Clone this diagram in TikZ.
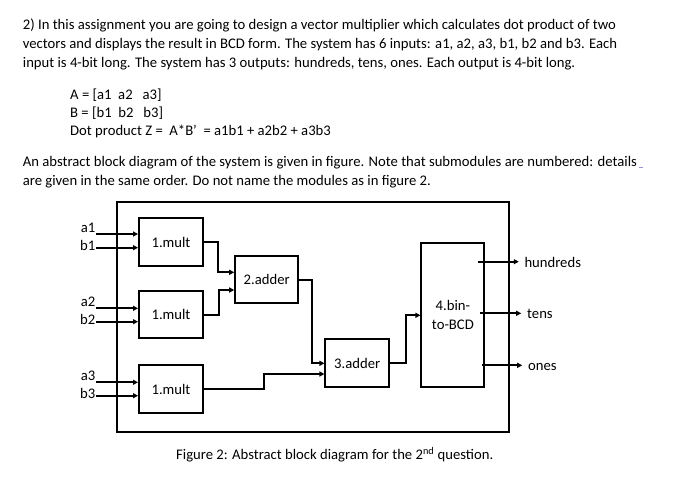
\documentclass[tikz,border=0pt]{standalone}
\usepackage{fontspec}
\setmainfont{Carlito}
\usetikzlibrary{arrows.meta}
\begin{document}
\begin{tikzpicture}[x=1pt,y=-1pt,
  every node/.style={font=\fontsize{14.67}{19}\selectfont, inner sep=0pt},
  txt/.style={anchor=base west},
  blk/.style={draw, line width=2pt, minimum width=63pt, minimum height=47.5pt},
  wire/.style={line width=2pt},
  arr/.style={wire, -{Triangle[length=5pt,width=5pt]}}]
\useasboundingbox (0,0) rectangle (676,490);

% text
\node[txt] (l1) at (22.7,29) {2) In this assignment you are going to design a vector multiplier which calculates dot product of two};
\node[txt] (l2) at (22.7,48) {vectors and displays the result in BCD form. The system has 6 inputs: a1, a2, a3, b1, b2 and b3. Each};
\node[txt] (l3) at (22.7,67) {input is 4-bit long. The system has 3 outputs: hundreds, tens, ones. Each output is 4-bit long.};
\node[txt] (va) at (70,99.3) {A = [a1\ \ a2\ \ \ a3]};
\node[txt] (vb) at (70,117) {B = [b1\ \ b2\ \ \ b3]};
\node[txt] (vz) at (70,135.5) {Dot product Z =\ \ A*B’\ \ = a1b1 + a2b2 + a3b3};
\node[txt] (p1) at (22.7,166) {An abstract block diagram of the system is given in figure. Note that submodules are numbered: details};
\node[txt] (p2) at (22.7,185.5) {are given in the same order. Do not name the modules as in figure 2.};
\draw[color=blue!40!gray!60, line width=0.8pt] (p1.base east) ++(1.5pt,-1.5pt) -- ++(4pt,0);
\node[txt] (cap) at (176,459.3) {Figure 2: Abstract block diagram for the 2\textsuperscript{nd} question.};

% outer box
\node[draw, line width=2.6pt, minimum width=392pt, minimum height=230pt] (outer) at (313,317) {};

% blocks
\node[blk, minimum width=64pt] (m1) at (171,242.2) {1.mult};
\node[blk, minimum width=64pt] (m2) at (171,314.5) {1.mult};
\node[blk, minimum width=64pt] (m3) at (171,389) {1.mult};
\node[blk] (ad2) at (266.7,279.5) {2.adder};
\node[blk, minimum width=63.5pt, minimum height=48.5pt] (ad3) at (357.2,363) {3.adder};
\node[blk, minimum width=63pt, minimum height=144.5pt, align=center] (bcd) at (452.9,315) {4.bin-\\[0.6pt]to-BCD};

% inputs
\node[anchor=base east] (la1) at (95.5,232.3) {a1};
\node[anchor=base east] (lb1) at (95.5,250.8) {b1};
\node[anchor=base east] (la2) at (95.5,306.6) {a2};
\node[anchor=base east] (lb2) at (95.5,324.8) {b2};
\node[anchor=base east] (la3) at (95.5,380.6) {a3};
\node[anchor=base east] (lb3) at (95.5,398.8) {b3};
\coordinate (a1s) at (96,234);
\coordinate (b1s) at (96,247.7);
\coordinate (a2s) at (96,308.3);
\coordinate (b2s) at (96,321.7);
\coordinate (a3s) at (96,382.3);
\coordinate (b3s) at (96,395.7);
\foreach \s/\m in {a1s/m1,b1s/m1,a2s/m2,b2s/m2,a3s/m3,b3s/m3}
  \draw[arr] (\s) -- (\s -| \m.west);

% internal connections
\coordinate (j1) at (218.3,272.3);
\coordinate (j2) at (219,290);
\coordinate (j3) at (312.3,363.3);
\coordinate (j4) at (264,374);
\coordinate (j5) at (405.7,315.3);
\draw[arr] (m1.east) -| (j1) -- (j1 -| ad2.west);
\draw[arr] (m2.east) -| (j2) -- (j2 -| ad2.west);
\draw[arr] (ad2.east) -| (j3) -- (j3 -| ad3.west);
\draw[arr] (m3.east) -| (j4) -- (j4 -| ad3.west);
\draw[arr] (ad3.east) -| (j5) -- (j5 -| bcd.west);

% outputs
\node[anchor=base west] (hund) at (524.3,267) {hundreds};
\node[anchor=base west] (tens) at (527,318.5) {tens};
\node[anchor=base west] (ones) at (528,370) {ones};
\coordinate (o1) at (478.3,261.7);
\coordinate (o2) at (480,313.3);
\coordinate (o3) at (481.7,365.3);
\draw[arr, shorten >=5.5pt] (o1) -- (o1 -| hund.west);
\draw[arr, shorten >=5.8pt] (o2) -- (o2 -| tens.west);
\draw[arr, shorten >=5.8pt] (o3) -- (o3 -| ones.west);
\end{tikzpicture}
\end{document}
